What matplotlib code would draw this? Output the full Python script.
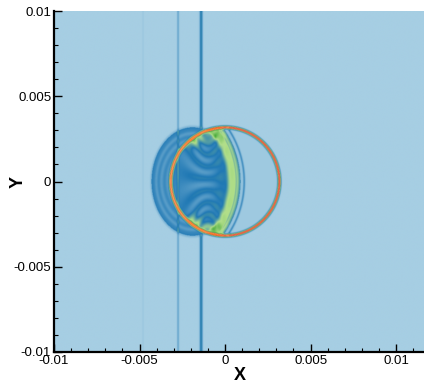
import numpy as np
import matplotlib
matplotlib.use('Agg')
import matplotlib.pyplot as plt
from matplotlib.colors import LinearSegmentedColormap
from matplotlib.ticker import MultipleLocator

plt.rcParams['font.family'] = ['Liberation Sans', 'DejaVu Sans']

# -- features (m)
shock_x = [-0.0048, -0.00275, -0.0014]      # planar waves
shock_amp = [0.015, 0.07, 0.17]
shock_w = [0.00005, 0.00006, 0.00008]
bubble_c = (0.0, 0.0)
bubble_r = 0.00318
bulge_c = (-0.0019, 0.0)                   # deformed left lobe
bulge_ab = (0.0024, 0.00318)
crescent_c = (-0.0045, 0.0)
crescent_r = 0.0054
corner_pts = [(-0.0019, 0.0025), (-0.0019, -0.0025)]

paired = ['#a6cee3', '#1f78b4', '#b2df8a', '#33a02c',
          '#fb9a99', '#e31a1c', '#fdbf6f', '#ff7f00']
cmap = LinearSegmentedColormap.from_list('paired_lin', paired)

xlim = (-0.01, 0.01163)
ylim = (-0.01, 0.01)
x = np.linspace(xlim[0], xlim[1], 900)
y = np.linspace(ylim[0], ylim[1], 830)
X, Y = np.meshgrid(x, y)

r = np.hypot(X - bubble_c[0], Y - bubble_c[1])
inside = r < bubble_r
ell = ((X - bulge_c[0]) / bulge_ab[0])**2 + ((Y - bulge_c[1]) / bulge_ab[1])**2
in_bulge = (ell < 1) & ~inside
rc = np.hypot(X - crescent_c[0], Y - crescent_c[1])
left_part = inside & (rc < crescent_r)

F = np.zeros_like(X)
for sx, a, w in zip(shock_x, shock_amp, shock_w):
    line = a * np.exp(-((X - sx) / w)**2)
    if sx > -0.002:
        line = np.where((ell < 1) | inside, 0, line)
    F += line

# left lobe: mid blue with dark rim and faint stripes
F += np.where(in_bulge, 0.1 + 0.015 * np.sin(ell * 30), 0)
F += 0.05 * np.exp(-((np.sqrt(ell) - 1) / 0.035)**2) * (X < bubble_c[0] - 0.0005)

# left part of bubble: blue with curved streaks fanning out from the middle
phase = Y / (1 + ((X + 0.001) / 0.0011)**2)
streak = 0.035 * np.sin(phase * 9000) * np.exp(-((X + 0.0014) / 0.0011)**2)
dark = 0.03 * np.exp(-((rc - crescent_r + 0.0011) / 0.0004)**2)
F += np.where(left_part, 0.12 + streak + dark, 0)
F += np.where(inside & ~left_part, 0.01, 0)

# green crescent, split by a thin dark line, and the transmitted wave ahead
band = np.exp(-((rc - crescent_r + 0.0004) / 0.00036)**4)
F += np.where(inside, 0.17 * band, 0)
F -= np.where(inside, 0.05 * np.exp(-((rc - crescent_r + 0.00025) / 0.00004)**2), 0)
F += np.where(inside, 0.1 * np.exp(-((rc - crescent_r - 0.00022) / 0.00006)**2), 0)
for cx, cy in corner_pts:
    d2 = (X - cx)**2 + (Y - cy)**2
    F += np.where(inside, 0.2 * np.exp(-d2 / 0.00045**2), 0)
    # greenish tongue from the corner toward the crescent
    F += np.where(inside, 0.08 * np.exp(-((X + 0.0008) / 0.0007)**2 - ((Y - cy * 1.08) / 0.0003)**2), 0)

# interface ring
F += 0.8 * np.exp(-((r - bubble_r) / 0.00008)**2)
F = np.clip(F, 0, 1)

fig = plt.figure(figsize=(4.24, 3.86), dpi=100)
ax = fig.add_axes([54 / 424, 34 / 386, 370 / 424, 341 / 386])
ax.imshow(F, extent=[xlim[0], xlim[1], ylim[0], ylim[1]], origin='lower',
          cmap=cmap, vmin=0, vmax=1, aspect='auto', interpolation='bilinear')
ax.set_xlim(xlim)
ax.set_ylim(ylim)

for s in ['top', 'right']:
    ax.spines[s].set_visible(False)
for s in ['left', 'bottom']:
    ax.spines[s].set_linewidth(1.6)

ax.xaxis.set_major_locator(MultipleLocator(0.005))
ax.yaxis.set_major_locator(MultipleLocator(0.005))
ax.xaxis.set_minor_locator(MultipleLocator(0.001))
ax.yaxis.set_minor_locator(MultipleLocator(0.001))
fmt = lambda v, p: '%g' % round(v, 6)
ax.xaxis.set_major_formatter(fmt)
ax.yaxis.set_major_formatter(fmt)
ax.tick_params(which='major', direction='in', length=6, width=1, labelsize=9.5, pad=2)
ax.tick_params(which='minor', direction='in', length=3, width=0.8)
ax.tick_params(top=False, right=False, which='both')

ax.set_xlabel('X', fontsize=13, fontweight='bold', va='center')
ax.set_ylabel('Y', fontsize=13, fontweight='bold', va='center')
ax.xaxis.set_label_coords((240 - 54) / 370, -(376 - 352) / 341)
ax.yaxis.set_label_coords(-(54 - 18) / 370, 0.5)

fig.savefig('out.png', dpi=100)
